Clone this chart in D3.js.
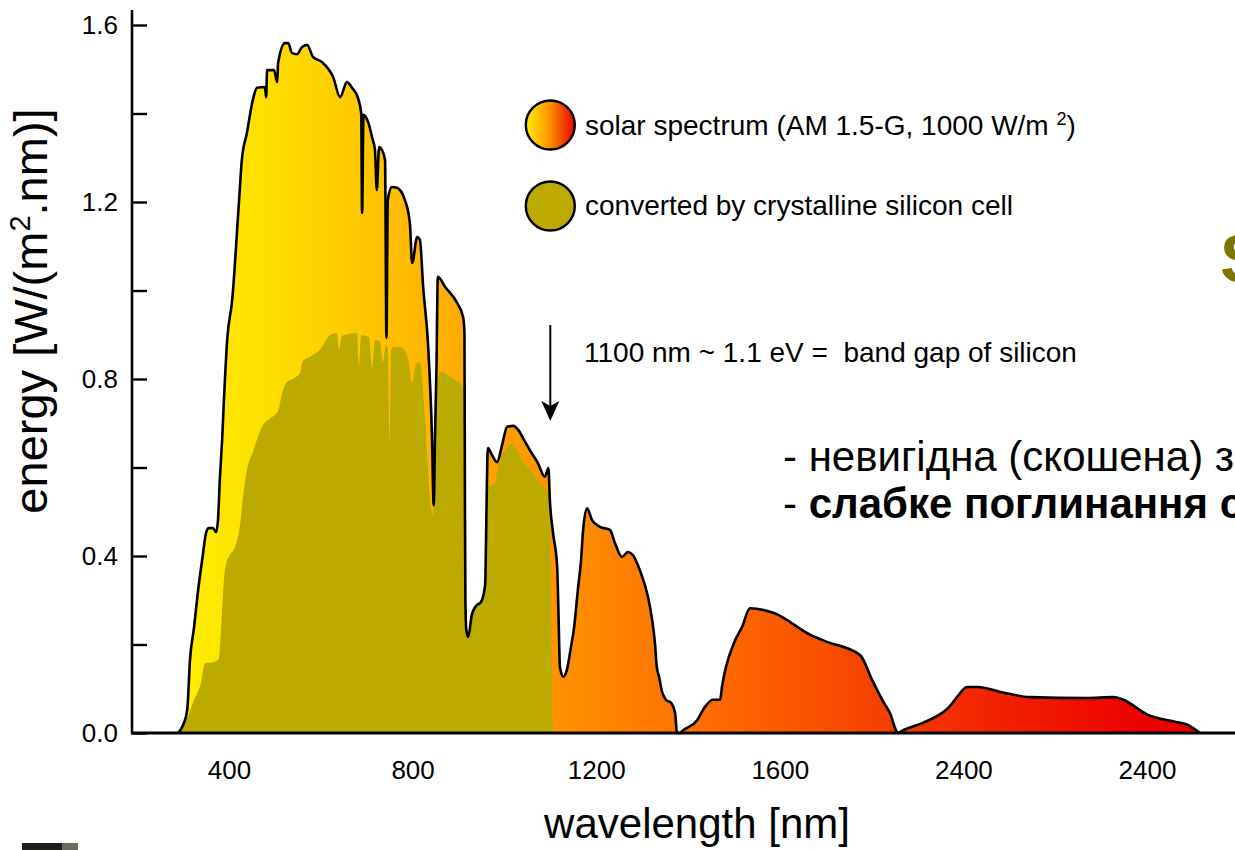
<!DOCTYPE html>
<html>
<head>
<meta charset="utf-8">
<script src="https://cdn.jsdelivr.net/npm/d3@7"></script>
<style>
  html, body { margin: 0; padding: 0; background: #fff; overflow: hidden; }
  svg { display: block; font-family: "Liberation Sans", Arial, Helvetica, sans-serif; }
</style>
</head>
<body>
<script>
// AM 1.5-G solar spectral irradiance, [wavelength nm, W/(m²·nm)]
const solarSpectrum = [
  [289,0],[300,0.018],[309,0.052],[315,0.165],[324,0.240],[332,0.316],[343,0.402],[350,0.452],
  [356,0.463],[365,0.463],[372,0.454],[376,0.481],[380,0.572],[385,0.662],[389,0.753],[396,0.888],
  [407,0.979],[422,1.205],[428,1.295],[439,1.356],[452,1.431],[461,1.458],[478,1.460],[481,1.437],
  [483,1.498],[498,1.498],[505,1.471],[507,1.514],[522,1.559],[529,1.559],[537,1.537],[548,1.534],
  [559,1.550],[570,1.555],[583,1.528],[603,1.516],[627,1.482],[642,1.437],[657,1.471],[668,1.458],
  [681,1.435],[688,1.401],[690,1.175],[693,1.397],[703,1.381],[712,1.345],[718,1.318],[722,1.227],
  [727,1.324],[733,1.318],[740,1.295],[743,0.893],[746,1.205],[755,1.234],[766,1.232],[783,1.205],
  [794,1.153],[799,1.062],[810,1.121],[816,1.114],[823,1.008],[834,0.872],[842,0.678],[846,0.515],
  [849,0.678],[852,0.827],[855,1.031],[871,1.008],[897,0.972],[910,0.940],[913,0.904],[914,0.527],
  [915,0.301],[917,0.233],[921,0.217],[929,0.267],[938,0.287],[949,0.296],[958,0.334],[960,0.436],
  [962,0.572],[964,0.644],[973,0.628],[984,0.612],[995,0.651],[1006,0.692],[1019,0.694],[1030,0.685],
  [1043,0.662],[1058,0.635],[1073,0.610],[1088,0.579],[1096,0.599],[1099,0.527],[1106,0.452],[1115,0.375],
  [1118,0.262],[1121,0.149],[1128,0.127],[1136,0.142],[1145,0.194],[1152,0.240],[1160,0.323],[1167,0.391],
  [1171,0.452],[1180,0.508],[1191,0.481],[1208,0.466],[1230,0.459],[1241,0.429],[1256,0.398],[1269,0.409],
  [1280,0.402],[1295,0.368],[1313,0.307],[1322,0.255],[1328,0.203],[1332,0.149],[1337,0.127],[1343,0.095],
  [1352,0.075],[1363,0.068],[1372,0.045],[1376,0],[1383,0],[1387,0.004],[1420,0.029],[1437,0.059],
  [1454,0.075],[1470,0.075],[1474,0.104],[1500,0.203],[1518,0.240],[1535,0.282],[1587,0.271],[1668,0.221],
  [1703,0.206],[1775,0.176],[1801,0.120],[1827,0.068],[1840,0.045],[1853,0.007],[1857,0],[1866,0.005],
  [1916,0.025],[1969,0.059],[1986,0.081],[2008,0.104],[2030,0.104],[2093,0.090],[2145,0.081],[2269,0.079],
  [2326,0.081],[2348,0.075],[2402,0.041],[2463,0.025],[2489,0.018],[2515,0]
];

// part of the spectrum converted by a crystalline silicon cell
const siliconConverted = [
  [293,0],[309,0.034],[324,0.075],[339,0.113],[348,0.158],[365,0.160],[378,0.167],[383,0.240],
  [387,0.316],[393,0.380],[402,0.402],[415,0.425],[424,0.470],[431,0.538],[439,0.594],[452,0.635],
  [474,0.696],[489,0.710],[507,0.728],[515,0.764],[526,0.793],[539,0.800],[555,0.814],[561,0.841],
  [576,0.850],[598,0.866],[620,0.899],[635,0.904],[640,0.866],[646,0.897],[679,0.904],[683,0.827],
  [688,0.899],[705,0.895],[712,0.825],[718,0.888],[729,0.884],[735,0.838],[742,0.877],[746,0.870],
  [750,0.662],[753,0.866],[757,0.872],[775,0.872],[790,0.847],[799,0.791],[807,0.832],[816,0.838],
  [827,0.707],[838,0.527],[844,0.493],[849,0.640],[851,0.750],[860,0.816],[886,0.802],[910,0.780],
  [913,0.760],[914,0.527],[915,0.301],[917,0.233],[921,0.217],[929,0.267],[938,0.287],[949,0.296],
  [958,0.334],[960,0.400],[962,0.530],[964,0.556],[980,0.565],[986,0.601],[1006,0.646],[1017,0.655],
  [1034,0.624],[1056,0.594],[1078,0.565],[1095,0.542],[1099,0.527],[1101,0.391],[1102,0.226],[1104,0.075],
  [1106,0]
];

const xTickValues = [400, 800, 1200, 1600, 2000, 2400];
const xTickLabels = ["400", "800", "1200", "1600", "2400", "2400"];
const yTickValues = [0, 0.2, 0.4, 0.6, 0.8, 1.0, 1.2, 1.4, 1.6];
const yTickLabels = ["0.0", "", "0.4", "", "0.8", "", "1.2", "", "1.6"];
const bandGapNm = 1100;

const W = 1235, H = 850;
const svg = d3.select("body").append("svg").attr("width", W).attr("height", H);
const defs = svg.append("defs");

const x = d3.scaleLinear().domain([400, 2400]).range([229, 1147]);
const y = d3.scaleLinear().domain([0, 1.6]).range([733, 25]);
const axisX0 = 132;

// spectrum colour ramp, yellow through orange to red
const ramp = [
  [0, "#FFEF00"], [0.1, "#FFDC00"], [0.2, "#FFC200"], [0.28, "#FFAA00"], [0.4, "#FF8A00"],
  [0.52, "#FF6C00"], [0.65, "#F84A00"], [0.8, "#F22200"], [0.95, "#EE0000"], [1, "#EE0000"]
];
const grad = defs.append("linearGradient").attr("id", "spec")
  .attr("gradientUnits", "userSpaceOnUse")
  .attr("x1", x(289)).attr("x2", x(2515)).attr("y1", 0).attr("y2", 0);
ramp.forEach(([o, c]) => grad.append("stop").attr("offset", o).attr("stop-color", c));

const legGrad = defs.append("linearGradient").attr("id", "specLegend");
[[0, "#FFEE00"], [0.45, "#FF9A00"], [1, "#EE0000"]].forEach(([o, c]) =>
  legGrad.append("stop").attr("offset", o).attr("stop-color", c));

const olive = "#BDAA00";

const area = d3.area().x(d => x(d[0])).y0(y(0)).y1(d => y(d[1])).curve(d3.curveMonotoneX);
const line = d3.line().x(d => x(d[0])).y(d => y(d[1])).curve(d3.curveMonotoneX);

svg.append("path").datum(solarSpectrum).attr("d", area).attr("fill", "url(#spec)");
svg.append("path").datum(siliconConverted).attr("d", area).attr("fill", olive);
svg.append("path").datum(solarSpectrum).attr("d", line)
  .attr("fill", "none").attr("stroke", "#000").attr("stroke-width", 2.6)
  .attr("stroke-linejoin", "round");

// y axis: ticks point inward, labels on the outside
const yAxis = d3.axisLeft(y).tickValues(yTickValues).tickSizeInner(-15).tickSizeOuter(0)
  .tickPadding(14).tickFormat((d, i) => yTickLabels[i]);
const gy = svg.append("g").attr("transform", `translate(${axisX0},0)`).call(yAxis);
gy.select(".domain").remove();
gy.selectAll(".tick line").attr("stroke", "#000").attr("stroke-width", 2.4);
gy.selectAll(".tick text").attr("font-size", 26).attr("fill", "#000")
  .attr("font-family", "'Liberation Sans', Arial, sans-serif");
svg.append("line").attr("x1", axisX0).attr("x2", axisX0).attr("y1", 10).attr("y2", y(0))
  .attr("stroke", "#000").attr("stroke-width", 2.6);

// x axis
const xAxis = d3.axisBottom(x).tickValues(xTickValues).tickSize(0).tickPadding(28)
  .tickFormat((d, i) => xTickLabels[i]);
const gx = svg.append("g").attr("transform", `translate(0,${y(0)})`).call(xAxis);
gx.select(".domain").remove();
gx.selectAll(".tick text").attr("font-size", 26).attr("fill", "#000")
  .attr("font-family", "'Liberation Sans', Arial, sans-serif");
svg.append("line").attr("x1", axisX0 - 1).attr("x2", W).attr("y1", y(0)).attr("y2", y(0))
  .attr("stroke", "#000").attr("stroke-width", 3.2);

// axis titles
svg.append("text").attr("x", 697).attr("y", 838).attr("text-anchor", "middle")
  .attr("font-size", 42).text("wavelength [nm]");
const yt = svg.append("text").attr("transform", "translate(47,311) rotate(-90)")
  .attr("text-anchor", "middle").attr("font-size", 47);
yt.append("tspan").text("energy [W/(m");
yt.append("tspan").attr("font-size", 29).attr("dy", -17).text("2");
yt.append("tspan").attr("dy", 17).text(".nm)]");

// legend
const lx = x(bandGapNm);
svg.append("circle").attr("cx", lx).attr("cy", 125).attr("r", 24.5)
  .attr("fill", "url(#specLegend)").attr("stroke", "#000").attr("stroke-width", 2.4);
svg.append("circle").attr("cx", lx).attr("cy", 206).attr("r", 24.5)
  .attr("fill", olive).attr("stroke", "#000").attr("stroke-width", 2.4);
const l1 = svg.append("text").attr("x", 585).attr("y", 135).attr("font-size", 28);
l1.append("tspan").text("solar spectrum (AM 1.5-G, 1000 W/m ");
l1.append("tspan").attr("font-size", 18).attr("dy", -10).text("2");
l1.append("tspan").attr("dy", 10).text(")");
svg.append("text").attr("x", 585).attr("y", 215).attr("font-size", 28)
  .text("converted by crystalline silicon cell");

// band gap marker
svg.append("line").attr("x1", lx).attr("x2", lx).attr("y1", 325).attr("y2", 408)
  .attr("stroke", "#000").attr("stroke-width", 2);
svg.append("path")
  .attr("d", `M${lx},${421} L${lx - 9},${401} L${lx},${406} L${lx + 9},${401} Z`)
  .attr("fill", "#000");
svg.append("text").attr("x", 584).attr("y", 362).attr("font-size", 28)
  .attr("xml:space", "preserve").text("1100 nm ~ 1.1 eV =  band gap of silicon");

// slide notes beside the chart
svg.append("text").attr("x", 1220).attr("y", 282).attr("font-size", 68).attr("font-weight", "bold")
  .attr("fill", "#7E7400").text("S");
svg.append("text").attr("x", 783).attr("y", 471).attr("font-size", 42)
  .text("- невигідна (скошена) з");
const n2 = svg.append("text").attr("x", 783).attr("y", 518).attr("font-size", 42);
n2.append("tspan").text("- ");
n2.append("tspan").attr("font-weight", "bold").text("слабке поглинання с");

// strip of the neighbouring slide element along the bottom edge
svg.append("rect").attr("x", 22).attr("y", 843).attr("width", 56).attr("height", 7).attr("fill", "#1e1e1a");
svg.append("rect").attr("x", 62).attr("y", 843).attr("width", 16).attr("height", 7).attr("fill", "#6b6a60");
</script>
</body>
</html>
